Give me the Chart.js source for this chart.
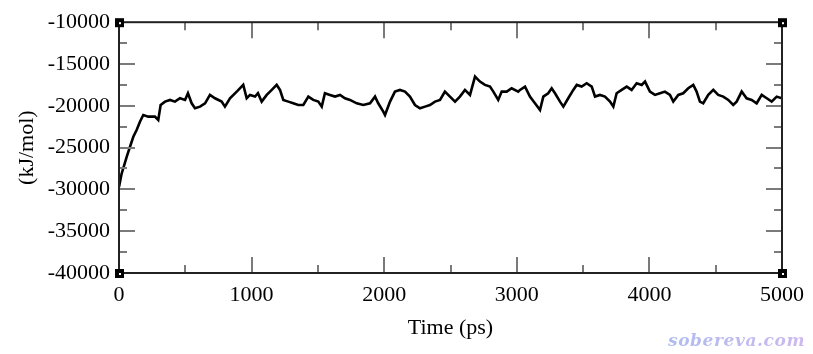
<!DOCTYPE html>
<html>
<head>
<meta charset="utf-8">
<script src="https://cdn.jsdelivr.net/npm/chart.js@4.4.1/dist/chart.umd.min.js"></script>
<style>
  html, body { margin: 0; padding: 0; background: #fff; }
  #wrap { position: relative; width: 813px; height: 354px; }
  #watermark {
    position: absolute; left: 668px; top: 330px;
    font-family: "DejaVu Serif", serif; font-style: italic; font-weight: bold;
    font-size: 17px; letter-spacing: 0.6px;
    background: linear-gradient(90deg, #aebcf0, #cdb9ef);
    -webkit-background-clip: text; background-clip: text; color: transparent;
  }
</style>
</head>
<body>
<div id="wrap">
  <canvas id="chart" width="813" height="354"></canvas>
  <div id="watermark">sobereva.com</div>
</div>
<script>
// energy trace (time in ps, energy in kJ/mol)
const timePs = [
  0, 20, 58, 83, 108, 133, 158, 183, 221, 271,
  296, 314, 347, 385, 422, 460, 498, 520, 548, 573,
  611, 649, 686, 724, 774, 799, 837, 888, 937, 963,
  988, 1026, 1048, 1076, 1114, 1152, 1189, 1214, 1239, 1277,
  1314, 1352, 1390, 1428, 1465, 1503, 1529, 1553, 1591, 1629,
  1667, 1704, 1742, 1793, 1842, 1893, 1931, 1955, 1993, 2006,
  2044, 2081, 2119, 2157, 2194, 2232, 2270, 2308, 2345, 2383,
  2421, 2458, 2496, 2534, 2571, 2609, 2647, 2685, 2722, 2760,
  2798, 2823, 2860, 2886, 2924, 2961, 3011, 3024, 3062, 3099,
  3137, 3175, 3200, 3237, 3263, 3288, 3326, 3351, 3388, 3426,
  3452, 3489, 3527, 3565, 3590, 3627, 3665, 3703, 3728, 3753,
  3791, 3829, 3866, 3904, 3942, 3967, 4004, 4042, 4080, 4117,
  4155, 4180, 4218, 4255, 4293, 4331, 4356, 4381, 4406, 4444,
  4482, 4519, 4557, 4595, 4632, 4658, 4696, 4733, 4771, 4809,
  4847, 4885, 4922, 4960, 5000
];
const energy = [
  -29700, -28100, -26100, -24900, -23700, -22900, -21900, -21100, -21300, -21300,
  -21700, -19900, -19500, -19300, -19500, -19100, -19300, -18500, -19700, -20300,
  -20100, -19700, -18700, -19100, -19500, -20100, -19100, -18300, -17500, -19100,
  -18700, -18900, -18500, -19500, -18700, -18100, -17500, -18100, -19300, -19500,
  -19700, -19900, -19900, -18900, -19300, -19500, -20100, -18500, -18700, -18900,
  -18700, -19100, -19300, -19700, -19900, -19700, -18900, -19700, -20700, -21100,
  -19500, -18300, -18100, -18300, -18900, -19900, -20300, -20100, -19900, -19500,
  -19300, -18300, -18900, -19500, -18900, -18100, -18700, -16500, -17100, -17500,
  -17700, -18300, -19300, -18300, -18300, -17900, -18300, -18100, -17700, -18900,
  -19700, -20500, -18900, -18500, -17900, -18500, -19500, -20100, -19100, -18100,
  -17500, -17700, -17300, -17700, -18900, -18700, -18900, -19500, -20100, -18500,
  -18100, -17700, -18100, -17300, -17500, -17100, -18300, -18700, -18500, -18300,
  -18700, -19500, -18700, -18500, -17900, -17500, -18300, -19500, -19700, -18700,
  -18100, -18700, -18900, -19300, -19900, -19500, -18300, -19100, -19300, -19700,
  -18700, -19100, -19500, -18900, -19100
];

const xRange = [0, 5000];
const yRange = [-40000, -10000];
const xMajor = 1000, xMinor = 500;
const yMajor = 5000, yMinor = 2500;
const xTitle = "Time (ps)";
const yTitle = "(kJ/mol)";

const serif = "'Liberation Serif', 'Times New Roman', serif";

// grace-style frame: inward ticks on all four sides, corner squares
const framePlugin = {
  id: "frame",
  afterDatasetsDraw(chart) {
    const ctx = chart.ctx;
    const a = chart.chartArea;
    const xs = chart.scales.x, ys = chart.scales.y;
    ctx.save();
    ctx.strokeStyle = "#7a7a7a";
    ctx.lineWidth = 2;
    ctx.beginPath();
    for (let v = xRange[0] + xMinor; v < xRange[1]; v += xMinor) {
      const px = Math.round(xs.getPixelForValue(v));
      const len = v % xMajor === 0 ? 16 : 8;
      ctx.moveTo(px, a.bottom); ctx.lineTo(px, a.bottom - len);
      ctx.moveTo(px, a.top); ctx.lineTo(px, a.top + len);
    }
    for (let v = yRange[0] + yMinor; v < yRange[1]; v += yMinor) {
      const py = Math.round(ys.getPixelForValue(v));
      const len = v % yMajor === 0 ? 16 : 8;
      ctx.moveTo(a.left, py); ctx.lineTo(a.left + len, py);
      ctx.moveTo(a.right, py); ctx.lineTo(a.right - len, py);
    }
    ctx.stroke();

    ctx.strokeStyle = "#222";
    ctx.lineWidth = 2;
    ctx.strokeRect(a.left, a.top, a.right - a.left, a.bottom - a.top);

    [[a.left, a.top], [a.right, a.top], [a.left, a.bottom], [a.right, a.bottom]].forEach(([cx, cy]) => {
      ctx.fillStyle = "#000";
      ctx.fillRect(cx - 4, cy - 4, 9, 9);
      ctx.fillStyle = "#fff";
      ctx.fillRect(cx, cy, 2, 2);
    });
    ctx.restore();
  }
};

const plainLabel = (v) => String(v);

new Chart(document.getElementById("chart"), {
  type: "line",
  data: {
    datasets: [{
      data: timePs.map((t, i) => ({ x: t, y: energy[i] })),
      borderColor: "#000",
      borderWidth: 2.6,
      pointRadius: 0,
      tension: 0
    }]
  },
  options: {
    responsive: false,
    animation: false,
    events: [],
    layout: { padding: { top: 22, right: 31, left: 0, bottom: 0 } },
    plugins: { legend: { display: false }, tooltip: { enabled: false } },
    scales: {
      x: {
        type: "linear",
        min: xRange[0], max: xRange[1],
        afterFit: (s) => { s.height = 81; },
        grid: { display: false, drawTicks: false },
        border: { display: false },
        ticks: { stepSize: xMajor, padding: 9, color: "#000", callback: plainLabel, font: { family: serif, size: 22 } },
        title: { display: true, text: xTitle, color: "#000", padding: { top: 0, bottom: 13 }, font: { family: serif, size: 22 } }
      },
      y: {
        min: yRange[0], max: yRange[1],
        afterFit: (s) => { s.width = 119; },
        grid: { display: false, drawTicks: false },
        border: { display: false },
        ticks: { stepSize: yMajor, padding: 9, color: "#000", callback: plainLabel, font: { family: serif, size: 22 } },
        title: { display: true, text: yTitle, color: "#000", padding: { top: 14, bottom: 0 }, font: { family: serif, size: 22 } }
      }
    }
  },
  plugins: [framePlugin]
});
</script>
</body>
</html>
